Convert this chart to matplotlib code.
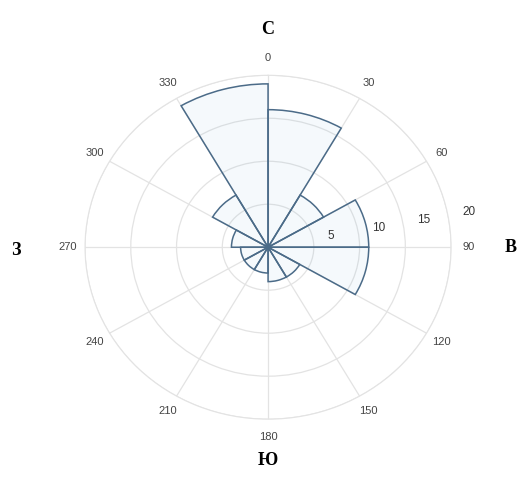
import numpy as np
import matplotlib.pyplot as plt

# wind rose: 12 sectors of 30 degrees, counts per sector
bin_starts = [0, 30, 60, 90, 120, 150, 180, 210, 240, 270, 300, 330]
counts = [16, 7, 11, 11, 4, 4, 3, 3, 3, 4, 7, 19]
r_ticks = [5, 10, 15, 20]
theta_labels = [str(a) for a in range(0, 360, 30)]
sides = {"С": (0.515, 0.94), "В": (0.982, 0.497), "Ю": (0.515, 0.065), "З": (0.03, 0.49)}

plt.rcParams['font.family'] = ['Liberation Sans', 'DejaVu Sans']

fig = plt.figure(figsize=(5.2, 4.92), dpi=100)
ax = fig.add_axes([0.1635, 0.148, 0.704, 0.699], projection='polar')
ax.set_aspect('auto')  # the source picture is slightly squashed vertically
ax.set_theta_zero_location('N')
ax.set_theta_direction(-1)

ax.bar(np.deg2rad(bin_starts), counts, width=np.deg2rad(30), align='edge',
       facecolor=(0.0, 0.447, 0.741, 0.04), edgecolor='#4b6b88', linewidth=1.1, zorder=3)

ax.set_ylim(0, 20)
ax.set_yticks(r_ticks)
ax.set_yticklabels([])
for t in r_ticks:
    ax.text(np.deg2rad(79), t + 1.6, str(t), ha='left', va='center',
            fontsize=8.5, color='#333333', clip_on=False)
ax.set_thetagrids(range(0, 360, 30), theta_labels, fontsize=8, color='#444444')
ax.tick_params(axis='x', pad=2)
ax.grid(color='#e3e3e3', linewidth=0.9)
ax.spines['polar'].set_color('#e3e3e3')
ax.set_facecolor('white')

for txt, (x, y) in sides.items():
    fig.text(x, y, txt, ha='center', va='center', fontsize=13, fontweight='bold',
             family='Liberation Serif')

fig.savefig('out.png', dpi=100)
